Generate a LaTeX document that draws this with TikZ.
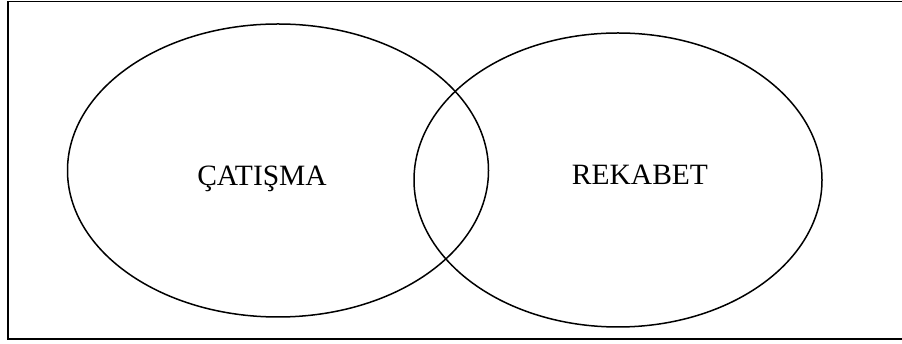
\documentclass[tikz,border=0pt]{standalone}
\usepackage{fontspec}
\setmainfont{Liberation Serif}
\usetikzlibrary{shapes.geometric}
\begin{document}
\begin{tikzpicture}[x=1pt,y=1pt,
  setshape/.style={ellipse, draw, line width=1.5pt, inner sep=0pt},
  setlabel/.style={anchor=base, inner sep=0pt, font=\fontsize{29.5}{34}\selectfont}]
\useasboundingbox (0,0) rectangle (902,344);
\draw[line width=1.6pt] (903,342.3) -- (8,342.3) -- (8,5) -- (903,5);
\node[setshape, minimum width=421pt, minimum height=293pt] (catisma) at (278,173.5) {};
\node[setshape, minimum width=408pt, minimum height=294pt] (rekabet) at (618,164) {};
\node[setlabel] (lc) at (262,158.5) {ÇATIŞMA};
\node[setlabel] (lr) at (640,159.5) {REKABET};
\end{tikzpicture}
\end{document}
